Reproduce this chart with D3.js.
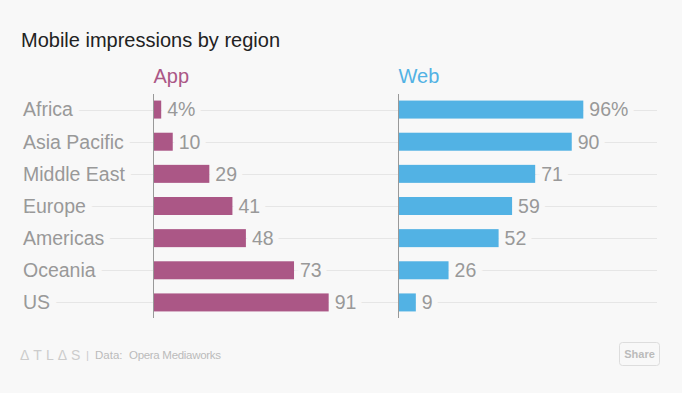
<!DOCTYPE html>
<html>
<head>
<meta charset="utf-8">
<script src="https://cdn.jsdelivr.net/npm/d3@7"></script>
<style>
  html, body { margin: 0; padding: 0; background: #f8f8f8; }
  svg { display: block; font-family: "Liberation Sans", Arial, sans-serif; }
</style>
</head>
<body>
<svg id="chart" width="682" height="393"></svg>
<script>
// data
const regions = ["Africa", "Asia Pacific", "Middle East", "Europe", "Americas", "Oceania", "US"];
const appShare = [4, 10, 29, 41, 48, 73, 91];
const webShare = [96, 90, 71, 59, 52, 26, 9];
const seriesNames = ["App", "Web"];

const bg = "#f8f8f8";
const colors = { App: "#ab5786", Web: "#52b2e4" };

const svg = d3.select("#chart");

const y = d3.scaleBand()
  .domain(regions)
  .range([93.5, 318.5])
  .paddingInner(0.44)
  .paddingOuter(0.22);

const width = d3.scaleLinear().domain([0, 100]).range([0, 192.5]);
const x0 = { App: 153.5, Web: 398.5 };

// title
svg.append("text")
  .attr("x", 21)
  .attr("y", 47)
  .attr("font-size", 20)
  .attr("fill", "#222")
  .text("Mobile impressions by region");

// grid lines
const grid = svg.append("g");
grid.selectAll("line")
  .data(regions)
  .join("line")
  .attr("x1", 20)
  .attr("x2", 657)
  .attr("y1", (d) => Math.round(y(d) + y.bandwidth() / 2) + 0.5)
  .attr("y2", (d) => Math.round(y(d) + y.bandwidth() / 2) + 0.5)
  .attr("stroke", "#e6e6e6");

// row labels, halo cuts the grid
svg.append("g")
  .selectAll("text")
  .data(regions)
  .join("text")
  .attr("x", 23)
  .attr("y", (d) => y(d) + y.bandwidth() / 2)
  .attr("dy", "0.35em")
  .attr("font-size", 19.5)
  .attr("fill", "#999")
  .attr("stroke", bg)
  .attr("stroke-width", 12)
  .attr("paint-order", "stroke")
  .text((d) => d);

const series = [
  { name: "App", values: appShare },
  { name: "Web", values: webShare },
];

series.forEach((s) => {
  const g = svg.append("g");
  const rows = regions.map((r, i) => ({ region: r, value: s.values[i], i }));

  g.append("text")
    .attr("x", x0[s.name])
    .attr("y", 83)
    .attr("font-size", 20)
    .attr("fill", colors[s.name])
    .text(s.name);

  g.selectAll("text.val")
    .data(rows)
    .join("text")
    .attr("class", "val")
    .attr("x", (d) => x0[s.name] + width(d.value) + 6)
    .attr("y", (d) => y(d.region) + y.bandwidth() / 2)
    .attr("dy", "0.35em")
    .attr("font-size", 19.5)
    .attr("fill", "#999")
    .attr("stroke", bg)
    .attr("stroke-width", 12)
    .attr("paint-order", "stroke")
    .text((d) => (d.i === 0 ? d.value + "%" : d.value));

  g.selectAll("rect")
    .data(rows)
    .join("rect")
    .attr("x", x0[s.name])
    .attr("y", (d) => y(d.region))
    .attr("width", (d) => width(d.value))
    .attr("height", y.bandwidth())
    .attr("fill", colors[s.name]);

  g.append("line")
    .attr("x1", x0[s.name])
    .attr("x2", x0[s.name])
    .attr("y1", 94)
    .attr("y2", 318)
    .attr("stroke", "#999");
});

// footer
const foot = svg.append("g").attr("font-size", 11.5).attr("fill", "#bbb");
foot.append("text")
  .attr("x", 20)
  .attr("y", 360)
  .attr("font-size", 14)
  .attr("letter-spacing", 4)
  .attr("font-weight", 300)
  .attr("fill", "#ccc")
  .text("ΔTLΔS");
foot.append("text").attr("x", 86).attr("y", 359).attr("fill", "#ccc").text("|");
foot.append("text").attr("x", 95).attr("y", 359).text("Data:");
foot.append("text").attr("x", 129).attr("y", 359).attr("textLength", 92).text("Opera Mediaworks");

svg.append("rect")
  .attr("x", 619.5)
  .attr("y", 342.5)
  .attr("width", 40)
  .attr("height", 23)
  .attr("rx", 3)
  .attr("fill", "none")
  .attr("stroke", "#ddd");
svg.append("text")
  .attr("x", 639.5)
  .attr("y", 358)
  .attr("text-anchor", "middle")
  .attr("font-size", 11)
  .attr("font-weight", "bold")
  .attr("fill", "#bbb")
  .text("Share");
</script>
</body>
</html>
